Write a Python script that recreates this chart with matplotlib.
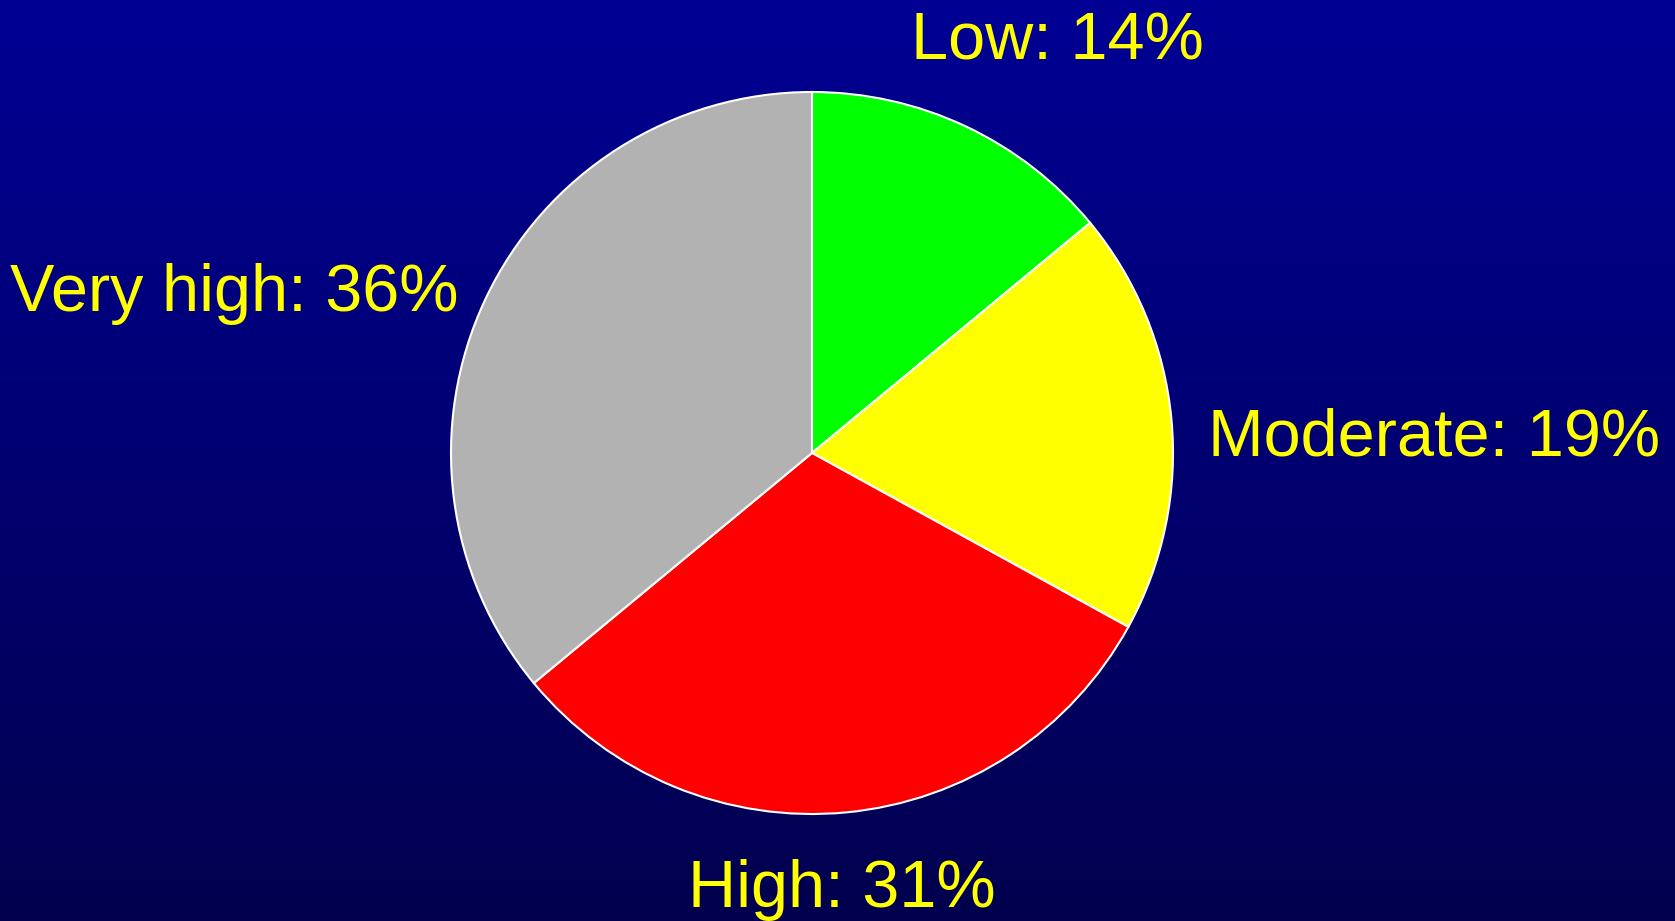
import numpy as np
import matplotlib.pyplot as plt

# Данные
labels = ["Low", "Moderate", "High", "Very high"]
values = [14, 19, 31, 36]
colors = ["#00ff00", "#ffff00", "#ff0000", "#b2b2b2"]
label_pos = [(1057, 862), (1434, 466), (842, 14), (234, 610)]

W, H = 1675, 921
fig = plt.figure(figsize=(W / 100, H / 100), dpi=100)
ax = fig.add_axes([0, 0, 1, 1])

# Градиентный фон
grad = np.linspace(0, 1, 256).reshape(-1, 1)
top = np.array([0, 0, 148]) / 255
bottom = np.array([2, 0, 78]) / 255
img = top + (bottom - top) * grad[:, :, None]
ax.imshow(img, extent=[0, W, 0, H], aspect="auto", origin="upper", zorder=0)

# Круговая диаграмма
ax.pie(values, colors=colors, startangle=90, counterclock=False,
       center=(812, H - 453), radius=361, frame=True,
       wedgeprops=dict(edgecolor="white", linewidth=1.5, zorder=2))
ax.set_xlim(0, W)
ax.set_ylim(0, H)
ax.axis("off")

# Подписи
for lab, v, (x, y) in zip(labels, values, label_pos):
    ax.text(x, y, f"{lab}: {v}%", color="#ffff00", fontsize=48,
            family="Liberation Sans", ha="center", va="baseline", zorder=3)

fig.savefig("out.png", dpi=100)
